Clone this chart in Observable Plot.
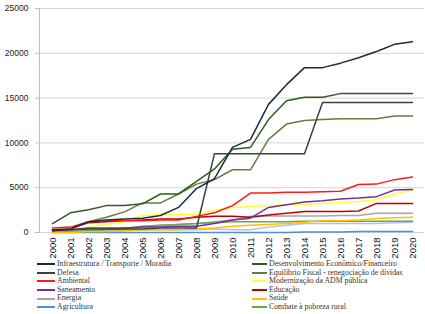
<!DOCTYPE html>
<html>
<head>
<meta charset="utf-8">
<script src="https://cdn.jsdelivr.net/npm/d3@7"></script>
<script src="https://cdn.jsdelivr.net/npm/@observablehq/plot@0.6"></script>
<style>
  html, body { margin: 0; padding: 0; background: #fff; }
  #chart { width: 425px; }
  .legend { display: flex; font-family: "Liberation Serif", "DejaVu Serif", serif; font-size: 7.8px; color: #333; margin-top: 0px; }
  .col { display: flex; flex-direction: column; }
  .item { display: flex; align-items: center; height: 8.6px; line-height: 8.6px; white-space: nowrap; }
  .sw { height: 2px; margin-right: 2px; flex: none; }
</style>
</head>
<body>
<div id="chart"></div>
<script>
const years = ["2000","2001","2002","2003","2004","2005","2006","2007","2008","2009","2010","2011","2012","2013","2014","2015","2016","2017","2018","2019","2020"];
const yTicks = [0, 5000, 10000, 15000, 20000, 25000];

const seriesNames = [
  "Infraestrutura / Transporte / Moradia",
  "Defesa",
  "Ambiental",
  "Saneamento",
  "Energia",
  "Agricultura",
  "Desenvolvimento Econômico/Financeiro",
  "Equilíbrio Fiscal - renegociação de dívidas",
  "Modernização da ADM pública",
  "Educação",
  "Saúde",
  "Combate à pobreza rural",
  ""
];
const seriesColors = ["#1f2940","#3f3f3f","#ff1a1a","#7030a0","#a6a6a6","#4f8fd6","#2f5a22","#5f7f3a","#ffff33","#c00000","#ffc000","#6aaa3e","#a9c4e4"];

const infra       = [200,400,1200,1400,1500,1600,1900,2800,4900,6000,9500,10400,14300,16500,18400,18400,18900,19500,20200,21000,21300];
const defesa      = [300,300,400,400,400,400,500,500,500,8800,8800,8800,8800,8800,8800,14500,14500,14500,14500,14500,14500];
const ambiental   = [500,600,1200,1300,1300,1300,1400,1400,1800,2200,3000,4400,4400,4500,4500,4550,4600,5350,5400,5900,6200];
const saneamento  = [200,300,500,500,500,600,600,700,700,1000,1400,1600,2800,3100,3400,3550,3750,3850,4000,4750,4800];
const energia     = [100,200,400,400,500,600,800,900,1000,1200,1400,1800,1850,1850,1850,1850,1900,1900,2150,2150,2150];
const agricultura = [0,0,0,0,0,0,0,0,0,0,0,0,0,0,50,50,50,100,100,100,100];
const desenv      = [1000,2200,2550,3000,3000,3200,4300,4300,5700,7100,9300,9500,12600,14700,15100,15100,15500,15500,15500,15500,15500];
const equilibrio  = [300,400,1200,1700,2300,3300,3300,4300,5400,5900,7000,7000,10400,12100,12500,12600,12700,12700,12700,13000,13000];
const modern      = [200,300,600,900,1200,1900,2000,2000,2000,2500,2800,2900,3000,3100,3150,3250,3350,3450,3650,4300,4750];
const educacao    = [300,400,1100,1200,1300,1400,1500,1500,1700,1800,1800,1700,1950,2150,2350,2350,2350,2400,3250,3250,3250];
const saude       = [0,0,100,100,200,300,300,300,400,500,700,800,900,1000,1150,1300,1300,1400,1550,1650,1700];
const combate     = [0,100,200,300,400,700,800,900,1000,1100,1200,1200,1200,1200,1250,1250,1250,1250,1250,1250,1250];
const outros      = [100,100,200,200,200,300,300,300,300,400,300,300,600,800,1000,1000,1000,1000,1000,1100,1150];

const seriesValues = [infra, defesa, ambiental, saneamento, energia, agricultura, desenv, equilibrio, modern, educacao, saude, combate, outros];

const drawOrder = [12,5,4,11,10,9,8,3,2,7,1,6,0];
const rows = [];
for (const i of drawOrder) {
  seriesValues[i].forEach((v, j) => rows.push({key: "s" + i, year: years[j], value: v}));
}

const chart = Plot.plot({
  width: 425,
  height: 260,
  marginTop: 8,
  marginLeft: 39,
  marginRight: 1,
  marginBottom: 28,
  style: {fontFamily: "'Liberation Sans', Arial, sans-serif", background: "#fff", overflow: "visible"},
  x: {type: "point", domain: years, padding: 0.5},
  y: {domain: [0, 25000]},
  color: {domain: drawOrder.map(i => "s" + i), range: drawOrder.map(i => seriesColors[i])},
  marks: [
    Plot.gridY(yTicks, {stroke: "#d4d4d4", strokeOpacity: 1, strokeWidth: 1}),
    Plot.frame({anchor: "left", stroke: "#bdbdbd"}),
    Plot.axisY(yTicks, {tickSize: 4, tickPadding: 7, fontSize: 8.5, stroke: "#bdbdbd", fill: "#222", label: null, tickFormat: d => String(d)}),
    Plot.axisX({tickSize: 0, tickPadding: 5, tickRotate: -90, fontSize: 9.5, fill: "#111", label: null}),
    Plot.lineY(rows, {x: "year", y: "value", z: "key", stroke: "key", strokeWidth: 1.5})
  ]
});
document.getElementById("chart").appendChild(chart);

// legend
const legend = document.createElement("div");
legend.className = "legend";
const cols = [[0,1,2,3,4,5],[6,7,8,9,10,11]];
cols.forEach((c, ci) => {
  const col = document.createElement("div");
  col.className = "col";
  col.style.marginLeft = ci === 0 ? "37px" : "0px";
  col.style.width = ci === 0 ? "215px" : "170px";
  c.forEach(i => {
    const it = document.createElement("div");
    it.className = "item";
    const sw = document.createElement("span");
    sw.className = "sw";
    sw.style.width = ci === 0 ? "18px" : "15px";
    sw.style.background = seriesColors[i];
    const tx = document.createElement("span");
    tx.textContent = seriesNames[i];
    it.appendChild(sw); it.appendChild(tx);
    col.appendChild(it);
  });
  legend.appendChild(col);
});
document.getElementById("chart").appendChild(legend);
</script>
</body>
</html>
